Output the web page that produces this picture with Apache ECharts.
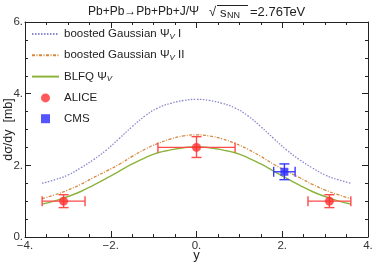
<!DOCTYPE html>
<html><head><meta charset="utf-8">
<script src="https://cdn.jsdelivr.net/npm/echarts@6/dist/echarts.min.js"></script>
<style>html,body{margin:0;padding:0;background:#fff}#c{width:374px;height:262px}</style>
</head><body><div id="c"></div>
<script>
const rapidity = [-3.6,-3.3,-3.0,-2.7,-2.4,-2.1,-1.8,-1.5,-1.2,-0.9,-0.6,-0.3,0,0.3,0.6,0.9,1.2,1.5,1.8,2.1,2.4,2.7,3.0,3.3,3.6];
const gaussI  = [1.50,1.60,1.73,1.93,2.16,2.43,2.75,3.08,3.38,3.60,3.73,3.81,3.84,3.81,3.73,3.60,3.38,3.08,2.75,2.43,2.16,1.93,1.73,1.60,1.50];
const gaussII = [1.07,1.18,1.31,1.47,1.66,1.84,2.03,2.25,2.45,2.61,2.74,2.82,2.85,2.82,2.74,2.61,2.45,2.25,2.03,1.84,1.66,1.47,1.31,1.18,1.07];
const blfq    = [0.92,1.01,1.13,1.27,1.45,1.64,1.84,2.04,2.21,2.35,2.43,2.49,2.52,2.49,2.43,2.35,2.21,2.04,1.84,1.64,1.45,1.27,1.13,1.01,0.92];

const aliceY    = [-3.1, 0.0, 3.1];
const aliceVal  = [1.00, 2.50, 1.00];
const aliceXLo  = [-3.6, -0.9, 2.6];
const aliceXHi  = [-2.6, 0.9, 3.6];
const aliceVLo  = [0.82, 2.22, 0.82];
const aliceVHi  = [1.18, 2.80, 1.18];

const cmsY   = [2.05];
const cmsVal = [1.82];
const cmsXLo = [1.8];
const cmsXHi = [2.3];
const cmsVLo = [1.60];
const cmsVHi = [2.04];

const FONT = 'Liberation Sans';
const zip = (a,b)=>a.map((v,i)=>[v,b[i]]);
const errData = (x,v,xl,xh,vl,vh)=>x.map((_,i)=>[x[i],v[i],xl[i],xh[i],vl[i],vh[i]]);

function errRender(color){
  return function(params, api){
    const x=api.value(0), y=api.value(1);
    const pl=api.coord([api.value(2),y]), ph=api.coord([api.value(3),y]);
    const pb=api.coord([x,api.value(4)]), pt=api.coord([x,api.value(5)]);
    const cap=5;
    const st={stroke:color,lineWidth:1.4};
    const L=(x1,y1,x2,y2)=>({type:'line',shape:{x1,y1,x2,y2},style:st});
    return {type:'group',children:[
      L(pl[0],pl[1],ph[0],ph[1]),
      L(pl[0],pl[1]-cap,pl[0],pl[1]+cap),
      L(ph[0],ph[1]-cap,ph[0],ph[1]+cap),
      L(pb[0],pb[1],pt[0],pt[1]),
      L(pb[0]-cap,pb[1],pb[0]+cap,pb[1]),
      L(pt[0]-cap,pt[1],pt[0]+cap,pt[1])
    ]};
  };
}

const fmtNum = v => (v<0?'\u2212'+(-v):String(v))+'.';
const axisCommon = {
  type:'value',
  axisLine:{show:true,onZero:false,lineStyle:{color:'#222',width:1}},
  axisTick:{show:true,inside:true,length:6,lineStyle:{color:'#222'}},
  minorTick:{show:true,splitNumber:4,length:3,lineStyle:{color:'#222'}},
  splitLine:{show:false}
};

const legendNames = {
  'g1':'{t|boosted Gaussian \u03A8}{s|V}{t| I}',
  'g2':'{t|boosted Gaussian \u03A8}{s|V}{t| II}',
  'bl':'{t|BLFQ \u03A8}{s|V}',
  'al':'{t|ALICE}',
  'cm':'{t|CMS}'
};

const chart = echarts.init(document.getElementById('c'));
chart.setOption({
  animation:false,
  textStyle:{fontFamily:FONT},
  grid:{left:25,right:6,top:22,bottom:25,containLabel:false,outerBoundsMode:'none'},
  xAxis:[
    Object.assign({},axisCommon,{min:-4,max:4,interval:2,position:'bottom',
      name:'y',nameLocation:'middle',nameGap:12,nameMoveOverlap:false,nameTextStyle:{fontSize:13,color:'#222',fontFamily:FONT},
      axisLabel:{formatter:fmtNum,fontSize:11.5,color:'#333',margin:3,fontFamily:FONT}}),
    Object.assign({},axisCommon,{min:-4,max:4,interval:2,position:'top',axisLabel:{show:false}})
  ],
  yAxis:[
    Object.assign({},axisCommon,{min:0,max:6,interval:2,position:'left',
      name:'d\u03C3/dy  [mb]',nameLocation:'middle',nameGap:10,nameMoveOverlap:false,nameTextStyle:{fontSize:12.5,color:'#222',fontFamily:FONT},
      axisLabel:{formatter:fmtNum,fontSize:11.5,color:'#333',margin:2,fontFamily:FONT}}),
    Object.assign({},axisCommon,{min:0,max:6,interval:2,position:'right',axisLabel:{show:false}})
  ],
  legend:{
    orient:'vertical',left:31,top:28,padding:0,itemWidth:27,itemHeight:9,itemGap:8.8,
    selectedMode:false,
    formatter:n=>legendNames[n],
    textStyle:{fontFamily:FONT,fontSize:11.5,color:'#222',
      rich:{t:{fontSize:11.5,color:'#222',fontFamily:FONT},
            s:{fontSize:8,color:'#222',fontStyle:'italic',fontFamily:FONT,padding:[5,0,0,0]}}},
    data:[
      {name:'g1',itemStyle:{opacity:0}},
      {name:'g2',itemStyle:{opacity:0}},
      {name:'bl',itemStyle:{opacity:0}},
      {name:'al',icon:'circle'},
      {name:'cm',icon:'path://M0,0H10V10H0Z'}
    ]
  },
  series:[
    {name:'g1',type:'line',data:zip(rapidity,gaussI),smooth:true,showSymbol:false,symbol:'none',
      lineStyle:{color:'#8a88cc',width:1.3,type:[1.5,1.5]},itemStyle:{color:'#8a88cc'}},
    {name:'g2',type:'line',data:zip(rapidity,gaussII),smooth:true,showSymbol:false,symbol:'none',
      lineStyle:{color:'#d6883e',width:1.3,type:[3,1.5,1,1.5]},itemStyle:{color:'#d6883e'}},
    {name:'bl',type:'line',data:zip(rapidity,blfq),smooth:true,showSymbol:false,symbol:'none',
      lineStyle:{color:'#8cb43c',width:1.4},itemStyle:{color:'#8cb43c'}},
    {type:'custom',renderItem:errRender('#ff4a4a'),data:errData(aliceY,aliceVal,aliceXLo,aliceXHi,aliceVLo,aliceVHi),z:5,encode:{x:0,y:1}},
    {type:'custom',renderItem:errRender('#3a3aff'),data:errData(cmsY,cmsVal,cmsXLo,cmsXHi,cmsVLo,cmsVHi),z:5,encode:{x:0,y:1}},
    {name:'al',type:'scatter',data:zip(aliceY,aliceVal),symbol:'circle',symbolSize:9,itemStyle:{color:'#ff3030'},z:6},
    {name:'cm',type:'scatter',data:zip(cmsY,cmsVal),symbol:'rect',symbolSize:8,itemStyle:{color:'#2b2bff'},z:6}
  ],
  graphic:[
    {type:'text',x:88,y:12,style:{text:'Pb+Pb\u2192Pb+Pb+J/\u03A8',font:'12px "Liberation Sans"',fill:'#222',verticalAlign:'middle',align:'left'}},
    {type:'text',x:209,y:12,style:{text:'\u221A',font:'13px "Liberation Sans"',fill:'#222',verticalAlign:'middle',align:'left'}},
    {type:'line',shape:{x1:217,y1:5.5,x2:248,y2:5.5},style:{stroke:'#222',lineWidth:1}},
    {type:'text',x:220,y:13,style:{text:'s',font:'13px "Liberation Sans"',fill:'#222',verticalAlign:'middle',align:'left'}},
    {type:'text',x:227,y:16,style:{text:'NN',font:'9px "Liberation Sans"',fill:'#222',verticalAlign:'middle',align:'left'}},
    {type:'text',x:250,y:12,style:{text:'=2.76TeV',font:'13px "Liberation Sans"',fill:'#222',verticalAlign:'middle',align:'left'}}
  ]
});
</script></body></html>
